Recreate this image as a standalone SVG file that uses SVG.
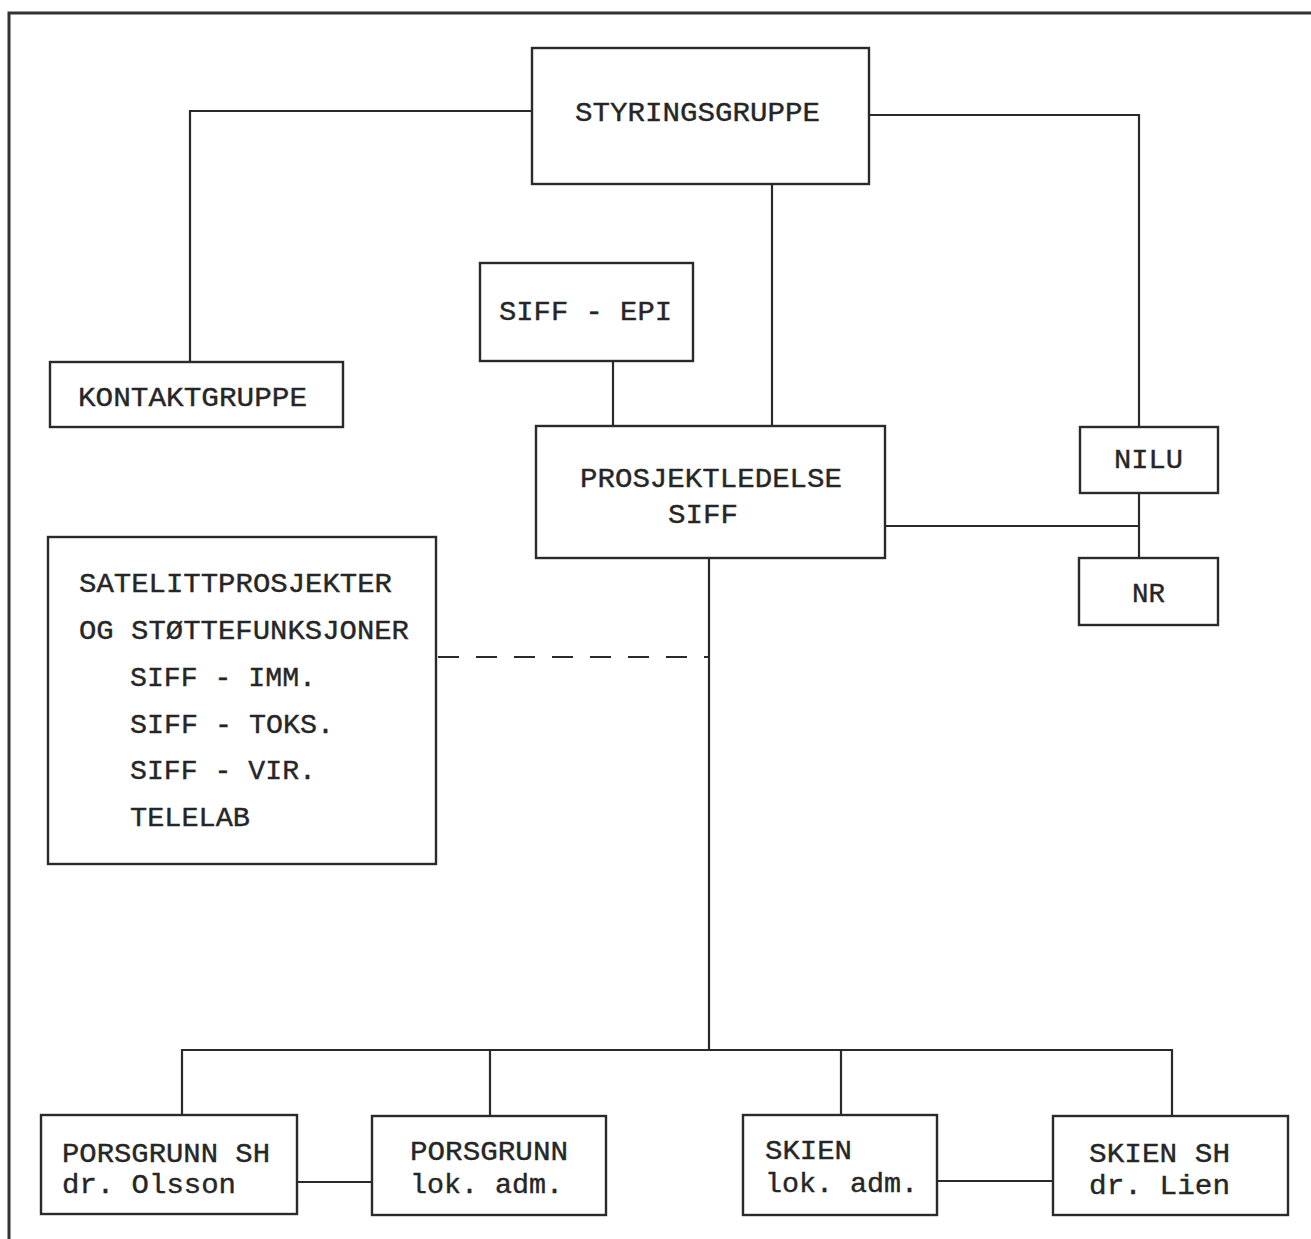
<svg xmlns="http://www.w3.org/2000/svg" width="1311" height="1239" viewBox="0 0 1311 1239">
<style>
.box{fill:none;stroke:#2a2a2a;stroke-width:2.4}
.ln{fill:none;stroke:#2a2a2a;stroke-width:2.2}
.t{font-family:"Liberation Mono","DejaVu Sans Mono",monospace;font-size:28px;fill:#262626;stroke:#262626;stroke-width:0.4}
</style>
<rect width="1311" height="1239" fill="#ffffff"/>
<path d="M9,1239 V13 H1311" fill="none" stroke="#333" stroke-width="3"/>
<g id="connectors">
<path class="ln" d="M532,111 H190 V362"/>
<path class="ln" d="M869,115 H1139 V427"/>
<path class="ln" d="M772,184 V426"/>
<path class="ln" d="M613,361 V426"/>
<path class="ln" d="M885,526 H1139"/>
<path class="ln" d="M1139,493 V558"/>
<path class="ln" d="M709,558 V1050"/>
<path class="ln" d="M438,657 H709" stroke-dasharray="21 17"/>
<path class="ln" d="M182,1115 V1050 H1172 V1116"/>
<path class="ln" d="M490,1050 V1116"/>
<path class="ln" d="M841,1050 V1115"/>
<path class="ln" d="M297,1182 H372"/>
<path class="ln" d="M937,1181 H1053"/>
</g>
<g id="styringsgruppe"><rect class="box" x="532" y="48" width="337" height="136"/><text class="t" x="575" y="121" textLength="245" lengthAdjust="spacingAndGlyphs">STYRINGSGRUPPE</text></g>
<g id="siff-epi"><rect class="box" x="480" y="263" width="213" height="98"/><text class="t" x="499" y="320" textLength="173" lengthAdjust="spacingAndGlyphs">SIFF - EPI</text></g>
<g id="kontaktgruppe"><rect class="box" x="50" y="362" width="293" height="65"/><text class="t" x="78" y="406" textLength="229" lengthAdjust="spacingAndGlyphs">KONTAKTGRUPPE</text></g>
<g id="prosjektledelse"><rect class="box" x="536" y="426" width="349" height="132"/><text class="t" x="580" y="487" textLength="262" lengthAdjust="spacingAndGlyphs">PROSJEKTLEDELSE</text><text class="t" x="668" y="523" textLength="70" lengthAdjust="spacingAndGlyphs">SIFF</text></g>
<g id="nilu"><rect class="box" x="1080" y="427" width="138" height="66"/><text class="t" x="1114" y="468" textLength="69" lengthAdjust="spacingAndGlyphs">NILU</text></g>
<g id="nr"><rect class="box" x="1079" y="558" width="139" height="67"/><text class="t" x="1132" y="602" textLength="33" lengthAdjust="spacingAndGlyphs">NR</text></g>
<g id="satelittprosjekter"><rect class="box" x="48" y="537" width="388" height="327"/>
<text class="t" x="79" y="592" textLength="313" lengthAdjust="spacingAndGlyphs">SATELITTPROSJEKTER</text>
<text class="t" x="79" y="639" textLength="330" lengthAdjust="spacingAndGlyphs">OG STØTTEFUNKSJONER</text>
<text class="t" x="130" y="686" textLength="186" lengthAdjust="spacingAndGlyphs">SIFF - IMM.</text>
<text class="t" x="130" y="733" textLength="204" lengthAdjust="spacingAndGlyphs">SIFF - TOKS.</text>
<text class="t" x="130" y="779" textLength="186" lengthAdjust="spacingAndGlyphs">SIFF - VIR.</text>
<text class="t" x="130" y="826" textLength="120" lengthAdjust="spacingAndGlyphs">TELELAB</text></g>
<g id="porsgrunn-sh"><rect class="box" x="41" y="1115" width="256" height="99"/><text class="t" x="62" y="1162" textLength="208" lengthAdjust="spacingAndGlyphs">PORSGRUNN SH</text><text class="t" x="62" y="1193" textLength="174" lengthAdjust="spacingAndGlyphs">dr. Olsson</text></g>
<g id="porsgrunn-lok"><rect class="box" x="372" y="1116" width="234" height="99"/><text class="t" x="410" y="1160" textLength="158" lengthAdjust="spacingAndGlyphs">PORSGRUNN</text><text class="t" x="410" y="1193" textLength="153" lengthAdjust="spacingAndGlyphs">lok. adm.</text></g>
<g id="skien-lok"><rect class="box" x="743" y="1115" width="194" height="100"/><text class="t" x="765" y="1159" textLength="87" lengthAdjust="spacingAndGlyphs">SKIEN</text><text class="t" x="765" y="1192" textLength="153" lengthAdjust="spacingAndGlyphs">lok. adm.</text></g>
<g id="skien-sh"><rect class="box" x="1053" y="1116" width="235" height="99"/><text class="t" x="1089" y="1162" textLength="141" lengthAdjust="spacingAndGlyphs">SKIEN SH</text><text class="t" x="1089" y="1194" textLength="141" lengthAdjust="spacingAndGlyphs">dr. Lien</text></g>
</svg>
